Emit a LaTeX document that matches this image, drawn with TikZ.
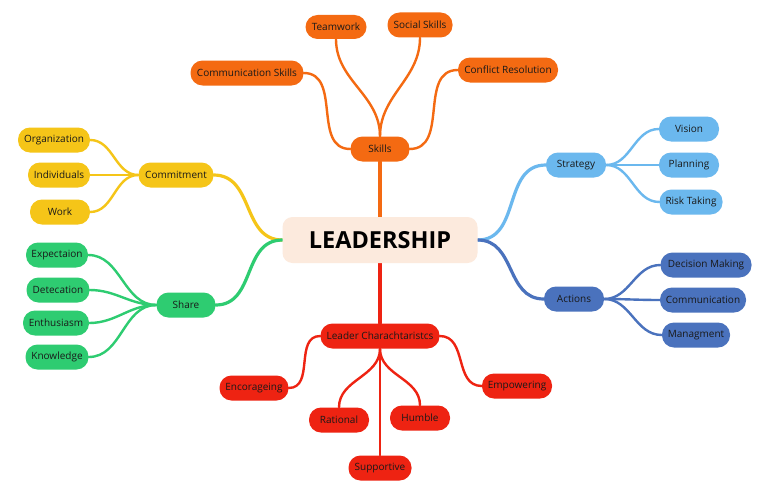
\documentclass[tikz,border=0pt]{standalone}
\usepackage{fontspec}
\setmainfont{Open Sans}
\usetikzlibrary{positioning}
\definecolor{corange}{HTML}{F46A12}
\definecolor{cyellow}{HTML}{F5C518}
\definecolor{cgreen}{HTML}{2ECC71}
\definecolor{clblue}{HTML}{6BB8EE}
\definecolor{cdblue}{HTML}{4A72BD}
\definecolor{cred}{HTML}{EE2312}
\definecolor{cpeach}{HTML}{FCEADD}
\pgfdeclarelayer{bg}
\pgfdeclarelayer{paper}
\pgfsetlayers{paper,bg,main}
\begin{document}
\begin{tikzpicture}[x=1pt,y=-1pt,
  pill/.style={rectangle, rounded corners=12pt, minimum height=25pt, inner xsep=0pt, inner ysep=0pt, font=\fontsize{10}{12}\selectfont, text=black!90},
  conn/.style={line width=2.4pt, line cap=round},
  mainconn/.style={line width=3.2pt, line cap=round},
  sc/.style={pill, fill=corange},
  yc/.style={pill, fill=cyellow},
  gc/.style={pill, fill=cgreen},
  lc/.style={pill, fill=clblue},
  dc/.style={pill, fill=cdblue},
  rc/.style={pill, fill=cred}]
\useasboundingbox (0,0) rectangle (775,503);
\begin{pgfonlayer}{paper}
\fill[white] (0,0) rectangle (775,503);
\end{pgfonlayer}

\node[rectangle, rounded corners=10pt, fill=cpeach, minimum width=195pt, minimum height=46pt, font=\fontsize{23.5}{28}\selectfont\bfseries] (L) at (380,240) {LEADERSHIP};

% Skills
\node[sc, minimum width=59pt] (skills) at (380,149) {Skills};
\node[sc, minimum width=61pt, minimum height=24pt] (team) at (336,27) {Teamwork};
\node[sc, minimum width=65pt] (social) at (420,25) {Social Skills};
\node[sc, minimum width=113pt] (comm) at (247,73) {Communication Skills};
\node[sc, minimum width=100pt] (conf) at (508,70) {Conflict Resolution};

% Commitment
\node[yc, minimum width=75pt] (commit) at (176,175) {Commitment};
\node[yc, minimum width=72pt] (org) at (54,140) {Organization};
\node[yc, minimum width=62pt] (ind) at (59,175) {Individuals};
\node[yc, minimum width=60pt] (work) at (60,212) {Work};

% Share
\node[gc, minimum width=59pt] (share) at (186,305) {Share};
\node[gc, minimum width=62pt] (exp) at (57,255) {Expectaion};
\node[gc, minimum width=63pt] (det) at (58,290) {Detecation};
\node[gc, minimum width=66pt] (ent) at (56,323) {Enthusiasm};
\node[gc, minimum width=63pt] (know) at (57,357) {Knowledge};

% Strategy
\node[lc, minimum width=60pt] (strat) at (576,165) {Strategy};
\node[lc, minimum width=60pt] (vis) at (689,129) {Vision};
\node[lc, minimum width=60pt] (plan) at (689,165) {Planning};
\node[lc, minimum width=63pt] (risk) at (691,202) {Risk Taking};

% Actions
\node[dc, minimum width=60pt] (act) at (574,299) {Actions};
\node[dc, minimum width=91pt] (dec) at (706,265) {Decision Making};
\node[dc, minimum width=86pt] (com2) at (703,300) {Communication};
\node[dc, minimum width=68pt] (man) at (696,335) {Managment};

% Leader characteristics
\node[rc, minimum width=119pt] (lead) at (380,336) {Leader Charachtaristcs};
\node[rc, minimum width=69pt] (enc) at (254,388) {Encorageing};
\node[rc, minimum width=60pt] (rat) at (339,420) {Rational};
\node[rc, minimum width=60pt] (hum) at (420,418) {Humble};
\node[rc, minimum width=63pt] (sup) at (380,468) {Supportive};
\node[rc, minimum width=70pt] (emp) at (517,386) {Empowering};

\begin{pgfonlayer}{bg}
% main branches
\draw[mainconn, corange] (L.north) -- (skills.south);
\draw[mainconn, cred] (L.south) -- (lead.north);
\draw[mainconn, cyellow] (L.west) to[out=180, in=0, looseness=1.1] (commit.east);
\draw[mainconn, cgreen] (L.west) to[out=180, in=0, looseness=1.1] (share.east);
\draw[mainconn, clblue] (L.east) to[out=0, in=180, looseness=1.1] (strat.west);
\draw[mainconn, cdblue] (L.east) to[out=0, in=180, looseness=1.1] (act.west);
% skills
\draw[conn, corange] (skills.west) to[out=180, in=0, looseness=1.1] (comm.east);
\draw[conn, corange] (skills.north) to[out=90, in=-90] (team.south);
\draw[conn, corange] (skills.north) to[out=90, in=-90] (social.south);
\draw[conn, corange] (skills.east) to[out=0, in=180, looseness=1.1] (conf.west);
% commitment
\draw[conn, cyellow] (commit.west) to[out=180, in=0] (org.east);
\draw[conn, cyellow] (commit.west) to[out=180, in=0] (ind.east);
\draw[conn, cyellow] (commit.west) to[out=180, in=0] (work.east);
% share
\draw[conn, cgreen] (share.west) to[out=180, in=0] (exp.east);
\draw[conn, cgreen] (share.west) to[out=180, in=0] (det.east);
\draw[conn, cgreen] (share.west) to[out=180, in=0] (ent.east);
\draw[conn, cgreen] (share.west) to[out=180, in=0] (know.east);
% strategy
\draw[conn, clblue] (strat.east) to[out=0, in=180] (vis.west);
\draw[conn, clblue] (strat.east) to[out=0, in=180] (plan.west);
\draw[conn, clblue] (strat.east) to[out=0, in=180] (risk.west);
% actions
\draw[conn, cdblue] (act.east) to[out=0, in=180] (dec.west);
\draw[conn, cdblue] (act.east) to[out=0, in=180] (com2.west);
\draw[conn, cdblue] (act.east) to[out=0, in=180] (man.west);
% leader
\draw[conn, cred] (lead.west) to[out=180, in=0, looseness=1.1] (enc.east);
\draw[conn, cred] (lead.east) to[out=0, in=180, looseness=1.1] (emp.west);
\draw[conn, cred] (lead.south) to[out=-90, in=90] (rat.north);
\draw[conn, cred] (lead.south) to[out=-90, in=90] (hum.north);
\draw[conn, cred] (lead.south) -- (sup.north);
\end{pgfonlayer}
\end{tikzpicture}
\end{document}
